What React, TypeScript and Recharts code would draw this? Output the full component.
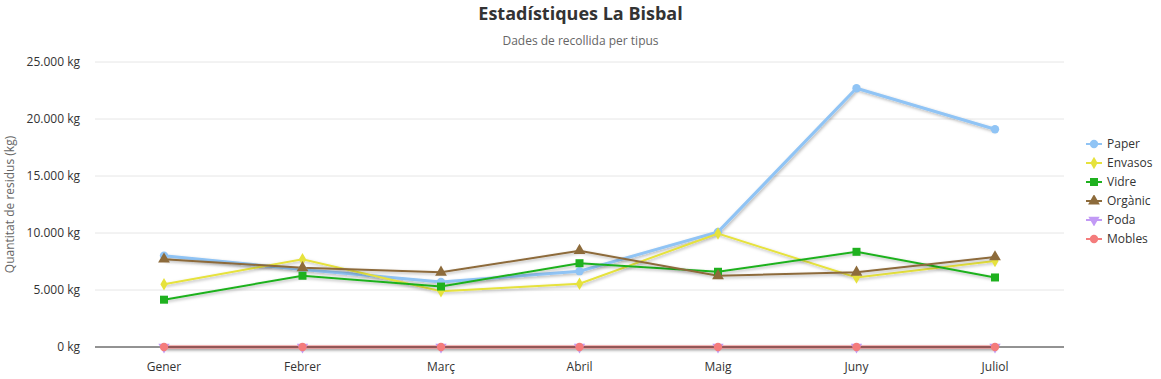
import React from "react"
import { LineChart, Line, XAxis, YAxis, CartesianGrid, Legend, Symbols } from "recharts"

const months = ["Gener", "Febrer", "Març", "Abril", "Maig", "Juny", "Juliol"]

const paper = [8000, 6800, 5700, 6650, 10100, 22700, 19100]
const envasos = [5500, 7700, 4900, 5550, 9950, 6100, 7550]
const vidre = [4150, 6250, 5300, 7350, 6600, 8350, 6100]
const organic = [7700, 6950, 6550, 8450, 6250, 6550, 7900]
const poda = [0, 0, 0, 0, 0, 0, 0]
const mobles = [0, 0, 0, 0, 0, 0, 0]

const yTicks = [0, 5000, 10000, 15000, 20000, 25000]

type Series = {
  key: string
  name: string
  color: string
  symbol: "circle" | "diamond" | "square" | "triangle" | "triangleDown"
  width: number
  values: number[]
}

const series: Series[] = [
  { key: "paper", name: "Paper", color: "#90c4f5", symbol: "circle", width: 3, values: paper },
  { key: "envasos", name: "Envasos", color: "#e6e23c", symbol: "diamond", width: 2, values: envasos },
  { key: "vidre", name: "Vidre", color: "#1fb11f", symbol: "square", width: 2, values: vidre },
  { key: "organic", name: "Orgànic", color: "#8d6b3b", symbol: "triangle", width: 2, values: organic },
  { key: "poda", name: "Poda", color: "#c29af5", symbol: "triangleDown", width: 2, values: poda },
  { key: "mobles", name: "Mobles", color: "#f47c7c", symbol: "circle", width: 3, values: mobles },
]

const data = months.map((m, i) => {
  const row: Record<string, string | number> = { month: m }
  series.forEach((s) => (row[s.key] = s.values[i]))
  return row
})

const fmtKg = (v: number) => {
  const s = String(v)
  return (v >= 1000 ? s.slice(0, s.length - 3) + "." + s.slice(-3) : s) + " kg"
}

const font = "'Open Sans', sans-serif"

function Marker({ cx, cy, color, symbol }: { cx: number; cy: number; color: string; symbol: Series["symbol"] }) {
  if (symbol === "triangleDown") {
    return (
      <g transform={`rotate(180 ${cx} ${cy})`}>
        <Symbols cx={cx} cy={cy} type="triangle" size={55} fill={color} />
      </g>
    )
  }
  const size = symbol === "square" ? 64 : symbol === "diamond" ? 45 : symbol === "triangle" ? 60 : 55
  return <Symbols cx={cx} cy={cy} type={symbol} size={size} fill={color} />
}

function LegendBox() {
  return (
    <div style={{ fontFamily: font, fontSize: 12, color: "#333" }}>
      {series.map((s) => (
        <div key={s.key} style={{ display: "flex", alignItems: "center", height: 19 }}>
          <svg width={18} height={12} style={{ marginRight: 4 }}>
            <line x1={1} y1={6} x2={17} y2={6} stroke={s.color} strokeWidth={2} />
            <Marker cx={9} cy={6} color={s.color} symbol={s.symbol} />
          </svg>
          <span>{s.name}</span>
        </div>
      ))}
    </div>
  )
}

export default function App() {
  return (
    <div style={{ position: "absolute", left: 0, top: 0, width: 1161, height: 379, background: "#fff", fontFamily: font }}>
      <style>{`.recharts-line-curve { filter: url(#lineShadow); }`}</style>
      <div style={{ position: "absolute", top: 1, width: 1161, textAlign: "center", fontSize: 18, fontWeight: 700, color: "#333" }}>
        Estadístiques La Bisbal
      </div>
      <div style={{ position: "absolute", top: 32, width: 1161, textAlign: "center", fontSize: 12, color: "#666" }}>
        Dades de recollida per tipus
      </div>
      <LineChart width={1161} height={379} data={data} margin={{ top: 62, right: 97, bottom: 2, left: 0 }}>
        <defs>
          <filter id="lineShadow" filterUnits="userSpaceOnUse" x={0} y={0} width={1161} height={379}>
            <feDropShadow dx={1} dy={1.5} stdDeviation={1.5} floodColor="#000" floodOpacity={0.3} />
          </filter>
        </defs>
        <CartesianGrid vertical={false} stroke="#e6e6e6" />
        <XAxis
          dataKey="month"
          height={30}
          axisLine={{ stroke: "#333" }}
          tickLine={false}
          tickSize={0}
          tickMargin={15}
          tick={{ fill: "#333", fontSize: 12, fontFamily: font }}
          padding={{ left: 69, right: 69 }}
        />
        <YAxis
          width={95}
          domain={[0, 25000]}
          ticks={yTicks}
          axisLine={false}
          tickLine={false}
          tickSize={0}
          tickMargin={15}
          tickFormatter={fmtKg}
          tick={{ fill: "#333", fontSize: 12, fontFamily: font }}
          label={({ viewBox }: any) => {
            const cy = viewBox.y + viewBox.height / 2
            return (
              <text x={14} y={cy} transform={`rotate(-90 14 ${cy})`} textAnchor="middle" fill="#666" fontSize={12} fontFamily={font}>
                Quantitat de residus (kg)
              </text>
            )
          }}
        />
        {series.map((s) => (
          <Line
            key={s.key}
            dataKey={s.key}
            name={s.name}
            stroke={s.color}
            strokeWidth={s.width}
            type="linear"
            isAnimationActive={false}
            dot={(p: any) => <Marker key={`${s.key}-${p.index}`} cx={p.cx} cy={p.cy} color={s.color} symbol={s.symbol} />}
            activeDot={false}
          />
        ))}
        <Legend
          layout="horizontal"
          verticalAlign="middle"
          content={() => <LegendBox />}
          wrapperStyle={{ position: "absolute", left: 1085, top: 134, width: 80, height: 120 }}
        />
      </LineChart>
    </div>
  )
}
